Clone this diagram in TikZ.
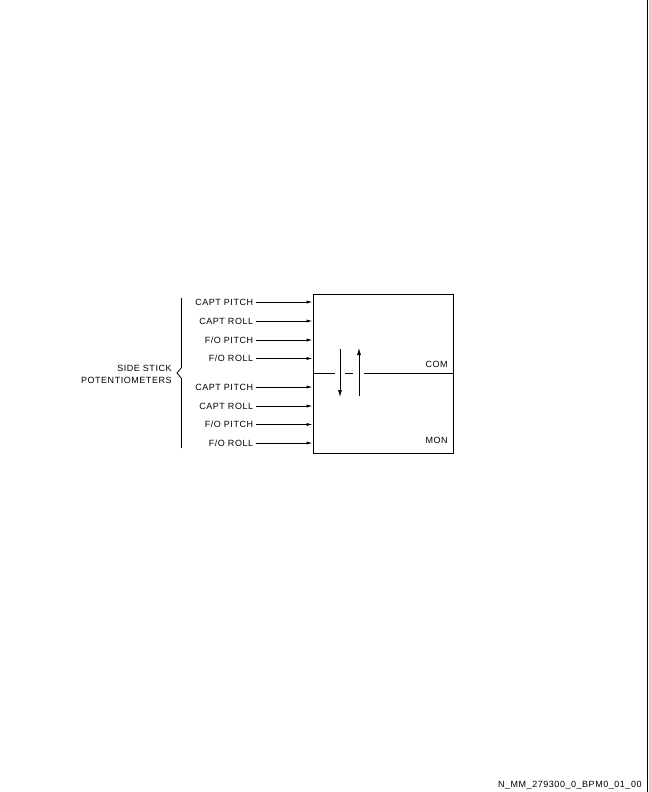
\documentclass[tikz,border=0pt]{standalone}
\usepackage{fontspec}
\newfontfamily\diafont[LetterSpace=6]{Liberation Sans}
\usetikzlibrary{positioning,arrows.meta}

\begin{document}
\begin{tikzpicture}[x=1pt,y=-1pt,line width=0.8pt,>={Latex[length=6pt,width=3.2pt]},
    every node/.style={font=\diafont\fontsize{9}{12}\selectfont,inner sep=2pt},
    main node/.style={draw,minimum width=140pt,minimum height=159pt,anchor=north west},
    sig/.style={left=57pt of #1}]
    \useasboundingbox (0,0) rectangle (648,792);
    \draw (647,0) -- (647,792);

    \node[main node] (fcc) at (312.5,293.5) {};
    \coordinate (in1) at (312.5,302);
    \coordinate (in2) at (312.5,321);
    \coordinate (in3) at (312.5,340);
    \coordinate (in4) at (312.5,358.5);
    \coordinate (in5) at (312.5,387);
    \coordinate (in6) at (312.5,406);
    \coordinate (in7) at (312.5,424.5);
    \coordinate (in8) at (312.5,443);
    \node (cp1) [sig=in1] {CAPT PITCH};
    \node (cr1) [sig=in2] {CAPT ROLL};
    \node (fp1) [sig=in3] {F/O PITCH};
    \node (fr1) [sig=in4] {F/O ROLL};
    \node (cp2) [sig=in5] {CAPT PITCH};
    \node (cr2) [sig=in6] {CAPT ROLL};
    \node (fp2) [sig=in7] {F/O PITCH};
    \node (fr2) [sig=in8] {F/O ROLL};
    \path[->]
        (cp1) edge (in1) (cr1) edge (in2) (fp1) edge (in3) (fr1) edge (in4)
        (cp2) edge (in5) (cr2) edge (in6) (fp2) edge (in7) (fr2) edge (in8);

    % COM / MON split
    \coordinate (mid) at (312.5,373);
    \draw[dash pattern=on 22.5pt off 10pt on 8pt off 11pt on 200pt] (fcc.west |- mid) -- (fcc.east |- mid);
    \draw[->,>={Latex[length=7pt,width=4pt]}] (340,349) -- (340,397);
    \draw[->,>={Latex[length=7pt,width=4pt]}] (359,396) -- (359,348);
    \node (com) [anchor=east] at (450,364) {COM};
    \node (mon) [anchor=east] at (450,440) {MON};

    % brace
    \draw (181.5,298) -- (181.5,367.5) -- (177,373) -- (181.5,378.5) -- (181.5,448);
    \node (pots) [anchor=east,align=right] at (174,374) {SIDE STICK\\POTENTIOMETERS};

    \node (ref) [anchor=east] at (644,785) {N\_MM\_279300\_0\_BPM0\_01\_00};
\end{tikzpicture}
\end{document}
